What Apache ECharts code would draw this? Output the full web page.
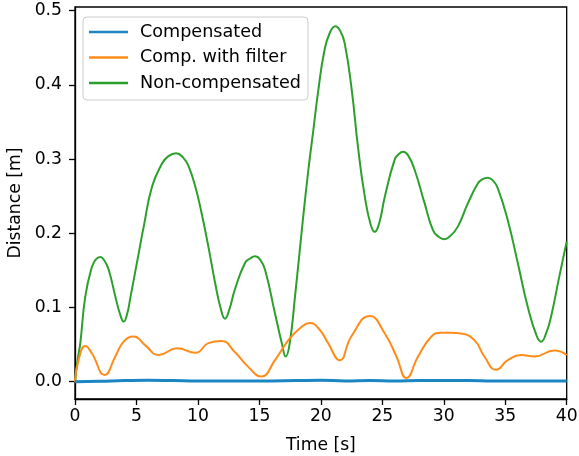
<!DOCTYPE html>
<html>
<head>
<meta charset="utf-8">
<script src="https://cdn.jsdelivr.net/npm/echarts@6/dist/echarts.min.js"></script>
<style>html,body{margin:0;padding:0;background:#fff}#c{width:579px;height:456px}</style>
</head>
<body>
<div id="c"></div>
<script>
const seriesNames = ['Compensated', 'Comp. with filter', 'Non-compensated'];
const xTicks = [0, 5, 10, 15, 20, 25, 30, 35, 40];
const yTicks = [0, 0.1, 0.2, 0.3, 0.4, 0.5];

const compT = [0, 2, 4, 6, 8, 10, 12, 14, 16, 18, 20, 22, 24, 26, 28, 30, 32, 34, 36, 38, 40];
const compV = [0, 0.0005, 0.0015, 0.002, 0.0015, 0.001, 0.001, 0.0008, 0.001, 0.0015, 0.002, 0.001, 0.0015, 0.0008, 0.0015, 0.0015, 0.0015, 0.0008, 0.001, 0.001, 0.001];

const filtT = [0, 0.3, 0.84, 1.38, 2.41, 3.28, 3.96, 4.77, 5.72, 6.81, 8.3, 9.8, 10.85, 11.9, 13.0, 14.1, 15.15, 16.27, 17.36, 18.44, 19.12, 19.9, 20.59, 21.53, 22.48, 23.98, 25.2, 26.15, 26.96, 27.91, 29.0, 29.8, 30.6, 31.4, 32.49, 33.3, 34.26, 35.2, 36.29, 37.37, 39.0, 40];
const filtV = [0, 0.03, 0.048, 0.038, 0.009, 0.034, 0.054, 0.061, 0.049, 0.036, 0.045, 0.039, 0.052, 0.055, 0.040, 0.020, 0.007, 0.029, 0.056, 0.074, 0.079, 0.070, 0.052, 0.029, 0.061, 0.0885, 0.065, 0.034, 0.005, 0.034, 0.061, 0.066, 0.066, 0.065, 0.056, 0.034, 0.016, 0.029, 0.036, 0.034, 0.042, 0.036];

const nonT = [0, 0.2, 0.43, 0.84, 1.38, 1.7, 2.05, 2.4, 2.74, 3.28, 3.65, 3.96, 4.25, 4.5, 5.18, 5.59, 6.27, 7.08, 7.6, 8.22, 8.8, 9.25, 9.8, 10.3, 10.85, 11.4, 11.85, 12.2, 12.55, 13.0, 13.83, 14.25, 14.65, 15.05, 15.46, 16.27, 16.85, 17.14, 17.45, 17.9, 18.45, 18.98, 19.39, 19.77, 20.3, 20.75, 21.18, 21.6, 21.94, 22.5, 23.03, 23.57, 24.05, 24.38, 24.75, 25.2, 26.0, 26.35, 26.69, 27.1, 27.64, 28.45, 29.13, 29.6, 30.05, 30.5, 31.14, 31.95, 32.77, 33.15, 33.58, 34.0, 34.39, 35.2, 36.02, 36.83, 37.55, 37.92, 38.3, 38.73, 39.4, 40];
const nonV = [0, 0.028, 0.052, 0.115, 0.155, 0.165, 0.168, 0.163, 0.151, 0.115, 0.092, 0.081, 0.092, 0.113, 0.173, 0.209, 0.263, 0.294, 0.304, 0.308, 0.302, 0.290, 0.262, 0.227, 0.182, 0.133, 0.099, 0.085, 0.097, 0.124, 0.160, 0.166, 0.169, 0.165, 0.151, 0.092, 0.050, 0.034, 0.050, 0.115, 0.204, 0.285, 0.339, 0.39, 0.447, 0.471, 0.479, 0.472, 0.456, 0.395, 0.315, 0.25, 0.212, 0.202, 0.214, 0.249, 0.299, 0.307, 0.310, 0.305, 0.285, 0.240, 0.204, 0.195, 0.192, 0.196, 0.209, 0.240, 0.267, 0.273, 0.275, 0.271, 0.261, 0.218, 0.160, 0.101, 0.062, 0.054, 0.064, 0.088, 0.142, 0.189];

const colors = ['#1b86c4', '#ff8c1a', '#2ca02c'];
const FONT = 'DejaVu Sans';
const FS = 17.2;
const LFS = 17.6;

function pairs(t, v) { return t.map((x, i) => [x, v[i]]); }

const chart = echarts.init(document.getElementById('c'), null, {renderer: 'canvas'});
chart.setOption({
  animation: false,
  color: colors,
  textStyle: {fontFamily: FONT, color: '#000'},
  grid: {left: 75, right: 12.3, top: 7, bottom: 57, show: true, borderColor: '#000', borderWidth: 1.3, containLabel: false, outerBoundsMode: 'none'},
  legend: {
    orient: 'vertical', left: 83, top: 17,
    padding: [5, 7, 7, 6],
    itemGap: 5.5, itemWidth: 39, itemHeight: 2.5,
    icon: 'rect',
    backgroundColor: 'rgba(255,255,255,0.8)',
    borderColor: '#cccccc', borderWidth: 1, borderRadius: 4,
    textStyle: {fontFamily: FONT, fontSize: LFS, color: '#000', lineHeight: 20, padding: [0, 0, 0, 7]},
    data: seriesNames
  },
  xAxis: {
    type: 'value', min: 0, max: 40, interval: 5,
    name: 'Time [s]', nameLocation: 'middle', nameGap: 38,
    nameTextStyle: {fontFamily: FONT, fontSize: FS, color: '#000'},
    axisLine: {show: true, onZero: false, lineStyle: {color: '#000', width: 1.3}},
    axisTick: {show: true, length: 6, lineStyle: {color: '#000', width: 1.3}},
    axisLabel: {fontFamily: FONT, fontSize: FS, color: '#000', margin: 9, showMaxLabel: true, showMinLabel: true},
    splitLine: {show: false}
  },
  yAxis: {
    type: 'value', min: -0.0233, max: 0.505,
    name: 'Distance [m]', nameLocation: 'middle', nameGap: 48,
    nameTextStyle: {fontFamily: FONT, fontSize: FS, color: '#000'},
    axisLine: {show: true, onZero: false, lineStyle: {color: '#000', width: 1.3}},
    axisTick: {show: true, length: 6, customValues: yTicks, lineStyle: {color: '#000', width: 1.3}},
    axisLabel: {fontFamily: FONT, fontSize: FS, color: '#000', margin: 13, customValues: yTicks, formatter: v => v.toFixed(1)},
    splitLine: {show: false}
  },
  series: [
    {name: seriesNames[0], type: 'line', data: pairs(compT, compV), showSymbol: false, symbol: 'none', smooth: 0.5, lineStyle: {width: 3, color: colors[0]}, z: 4},
    {name: seriesNames[1], type: 'line', data: pairs(filtT, filtV), showSymbol: false, symbol: 'none', smooth: 0.5, lineStyle: {width: 2, color: colors[1]}, z: 3},
    {name: seriesNames[2], type: 'line', data: pairs(nonT, nonV), showSymbol: false, symbol: 'none', smooth: 0.5, lineStyle: {width: 2, color: colors[2]}, z: 2}
  ]
});
</script>
</body>
</html>
